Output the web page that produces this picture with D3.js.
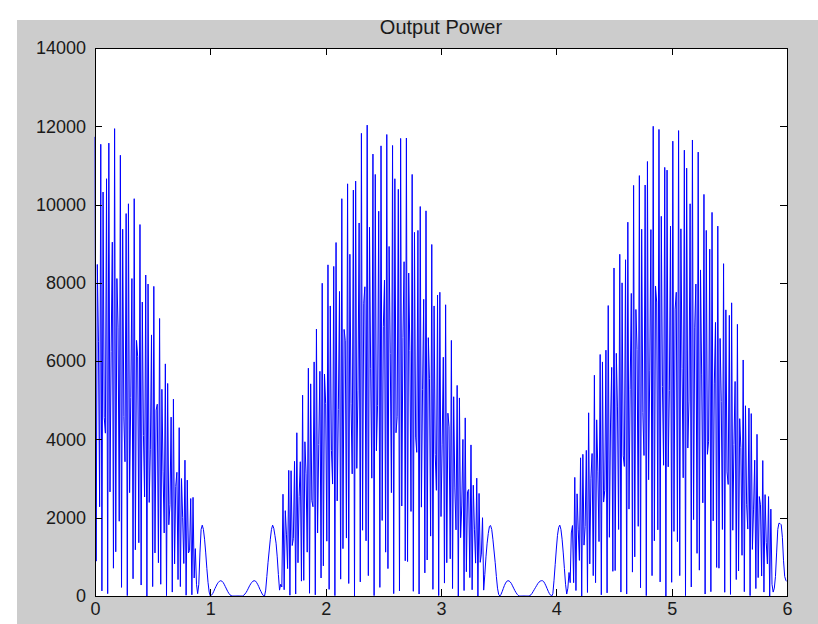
<!DOCTYPE html>
<html lang="en">

<head>
    <meta charset="UTF-8">
    <title>Output Power</title>
    <script src="https://d3js.org/d3.v7.min.js"></script>
    <style>
        html, body {
            margin: 0;
            padding: 0;
            background: #ffffff;
        }

        text {
            font-family: "Liberation Sans", Arial, sans-serif;
            fill: #1a1a1a;
        }
    </style>
</head>

<body>
    <div id="target"></div>

    <script>
        // one sample every 0.01 along x
        const step = 0.01;

        // x 0 .. 0.87
        const hump1 = [11730, 890, 8470, 6510, 2280, 11540, 130, 10320, 4560, 4160,
            10660, 60, 11570, 2660, 6250, 9040, 710, 11940, 1130, 8110,
            6870, 1910, 11260, 220, 9370, 4580, 3430, 9770, 10, 10020,
            2640, 5070, 8110, 440, 10150, 1180, 6530, 6120, 1360, 9490,
            280, 7510, 4100, 2530, 8200, 0, 7970, 2390, 3750, 6670,
            240, 7910, 1100, 4750, 4900, 850, 7090, 300, 5280, 3190,
            1610, 5930, 10, 5430, 1820, 2330, 4570, 100, 5030, 820,
            2800, 3160, 420, 4300, 240, 3000, 2010, 830, 3470, 20,
            2960, 1100, 1160, 2490, 30, 2520, 460, 1210];
        // x 0.88 .. 0.99
        const sideA = [300, 60, 300, 1100, 1700, 1810, 1700, 1450, 1100, 700, 350, 100];
        // x 1.00 .. 1.47
        const gap1 = [0, 20, 60, 120, 190, 250, 310, 350, 380, 390,
            380, 350, 300, 240, 180, 120, 70, 30, 10, 0,
            0, 0, 0, 0, 0, 0, 0, 0, 0, 20,
            50, 90, 140, 200, 260, 310, 350, 380, 390, 385,
            350, 300, 240, 170, 110, 50, 10, 0];
        // x 1.48 .. 1.61
        const sideB = [150, 500, 850, 1150, 1450, 1700, 1810, 1730, 1550, 1350, 1000, 550, 150, 300];
        // x 1.62 .. 3.36
        const hump2 = [230, 2600, 160, 2180, 1580, 700, 3210, 20, 3200, 1290,
            1470, 3440, 50, 4170, 850, 2540, 3430, 380, 5130, 400,
            3940, 3120, 1120, 5820, 70, 5420, 2440, 2280, 5980, 30,
            6820, 1610, 3870, 5740, 460, 7990, 770, 5670, 4920, 1400,
            8460, 170, 7410, 3720, 2860, 8420, 10, 9030, 2430, 4760,
            7780, 430, 10150, 1210, 6810, 6520, 1480, 10530, 320, 8730,
            4910, 3120, 10370, 0, 10600, 3260, 5240, 9530, 360, 11820,
            1680, 7480, 7900, 1410, 12030, 520, 9420, 5820, 3010, 11290,
            10, 10770, 3710, 4870, 9830, 220, 11500, 1930, 6880, 8070,
            1120, 11790, 700, 8930, 6190, 2640, 11510, 60, 10660, 4170,
            4580, 10390, 130, 11690, 2300, 6600, 8540, 900, 11700, 880,
            8250, 6270, 2160, 10770, 120, 9290, 4060, 3670, 9340, 50,
            9950, 2270, 5280, 7580, 590, 9840, 920, 6600, 5550, 1530,
            8980, 170, 7410, 3610, 2700, 7690, 10, 7760, 2030, 3860,
            6100, 330, 7440, 850, 4670, 4320, 950, 6530, 190, 5090,
            2760, 1690, 5380, 0, 5060, 1490, 2300, 4000, 140, 4550,
            620, 2670, 2720, 470, 3860, 160, 2830, 1690, 840, 3010,
            0, 2620, 860, 1070, 2000];
        // x 3.37 .. 3.50
        const sideC = [150, 550, 1000, 1350, 1600, 1780, 1800, 1700, 1450, 1150, 850, 500, 200, 40];
        // x 3.51 .. 3.97
        const gap2 = [0, 40, 110, 190, 270, 330, 375, 390, 385, 360,
            320, 260, 200, 140, 90, 45, 15, 0, 0, 0,
            0, 0, 0, 0, 0, 0, 10, 30, 70, 120,
            170, 220, 270, 320, 355, 380, 390, 390, 370, 320,
            260, 190, 120, 60, 20, 0, 60];
        // x 3.98 .. 4.11
        const sideD = [400, 800, 1200, 1550, 1750, 1810, 1700, 1450, 1100, 700, 300, 50, 200, 600];
        // x 4.12 .. 5.86
        const hump3 = [340, 1610, 1800, 340, 3030, 140, 2610, 1690, 910, 3530,
            0, 3620, 1300, 1780, 3720, 90, 4680, 820, 3010, 3640,
            520, 5640, 340, 4500, 3190, 1390, 6170, 30, 5980, 2400,
            2700, 6280, 80, 7420, 1500, 4420, 5840, 630, 8380, 650,
            6200, 4830, 1700, 8730, 100, 8000, 3580, 3310, 8590, 50,
            9550, 2220, 5280, 7730, 610, 10490, 1000, 7320, 6300, 1780,
            10740, 210, 9370, 4690, 3590, 10500, 10, 11100, 2970, 5770,
            9360, 520, 12000, 1410, 7920, 7510, 1690, 11920, 360, 9700,
            5350, 3340, 10950, 0, 10880, 3300, 5250, 9450, 350, 11620,
            1650, 7330, 7760, 1390, 11890, 520, 9380, 5820, 3020, 11390,
            10, 10930, 3780, 4980, 10020, 230, 11650, 1950, 6870, 7970,
            1090, 11340, 660, 8330, 5670, 2380, 10260, 50, 9340, 3620,
            3940, 8860, 110, 9800, 1920, 5440, 6990, 730, 9450, 710,
            6580, 4970, 1700, 8490, 95, 7310, 3170, 2850, 7170, 40,
            7490, 1680, 3870, 5480, 420, 6940, 640, 4530, 3790, 1040,
            6030, 110, 4860, 2330, 1710, 4800, 10, 4660, 1190, 2220,
            3470, 190, 4130, 470, 2540, 2330, 510, 3460, 100, 2590,
            1370, 820, 2540, 0, 2220];
        // x 5.87 .. 6.00
        const sideE = [300, 100, 200, 500, 1100, 1700, 1860, 1850, 1820, 1500, 900, 500, 400, 370];

        const xTicks = [0, 1, 2, 3, 4, 5, 6];
        const yTicks = [0, 2000, 4000, 6000, 8000, 10000, 12000, 14000];
        const title = "Output Power";

        const power = [].concat(hump1, sideA, gap1, sideB, hump2, sideC, gap2, sideD, hump3, sideE);

        const width = 818;
        const height = 624;
        const box = { left: 95, top: 48, right: 787, bottom: 596 };
        const tick = 7;

        const svg = d3.select("#target")
            .append("svg")
            .attr("width", width)
            .attr("height", height)
            .style("display", "block");

        // grey figure background
        svg.append("rect")
            .attr("x", 17)
            .attr("y", 20)
            .attr("width", width - 17)
            .attr("height", height - 20)
            .attr("fill", "#cccccc");

        const x = d3.scaleLinear().domain([0, 6]).range([box.left, box.right]);
        const y = d3.scaleLinear().domain([0, 14000]).range([box.bottom, box.top]);

        svg.append("rect")
            .attr("x", box.left)
            .attr("y", box.top)
            .attr("width", box.right - box.left)
            .attr("height", box.bottom - box.top)
            .attr("fill", "#ffffff");

        const line = d3.line()
            .x((d, i) => x(i * step))
            .y(d => y(d));

        svg.append("path")
            .datum(power)
            .attr("d", line)
            .attr("fill", "none")
            .attr("stroke", "#0000ff")
            .attr("stroke-width", 1);

        // axes, ticks pointing in like matlab's box
        const axBottom = svg.append("g")
            .attr("transform", `translate(0,${box.bottom})`)
            .call(d3.axisBottom(x).tickValues(xTicks).tickSizeInner(-tick).tickSizeOuter(0).tickPadding(6).tickFormat(d3.format("d")));
        const axLeft = svg.append("g")
            .attr("transform", `translate(${box.left},0)`)
            .call(d3.axisLeft(y).tickValues(yTicks).tickSizeInner(-tick).tickSizeOuter(0).tickPadding(9).tickFormat(d3.format("d")));
        const axTop = svg.append("g")
            .attr("transform", `translate(0,${box.top})`)
            .call(d3.axisTop(x).tickValues(xTicks).tickSizeInner(-tick).tickSizeOuter(0).tickFormat(""));
        const axRight = svg.append("g")
            .attr("transform", `translate(${box.right},0)`)
            .call(d3.axisRight(y).tickValues(yTicks).tickSizeInner(-tick).tickSizeOuter(0).tickFormat(""));

        [axBottom, axLeft, axTop, axRight].forEach(g => {
            g.select(".domain").remove();
            g.selectAll("line").attr("stroke", "#000").attr("shape-rendering", "crispEdges");
            g.selectAll("text")
                .style("font-family", "'Liberation Sans', Arial, sans-serif")
                .style("font-size", "18px")
                .attr("fill", "#1a1a1a");
        });

        svg.append("rect")
            .attr("x", box.left)
            .attr("y", box.top)
            .attr("width", box.right - box.left)
            .attr("height", box.bottom - box.top)
            .attr("fill", "none")
            .attr("stroke", "#000")
            .attr("shape-rendering", "crispEdges");

        svg.append("text")
            .attr("x", (box.left + box.right) / 2)
            .attr("y", 34)
            .attr("text-anchor", "middle")
            .style("font-size", "20px")
            .text(title);
    </script>

</body>

</html>
